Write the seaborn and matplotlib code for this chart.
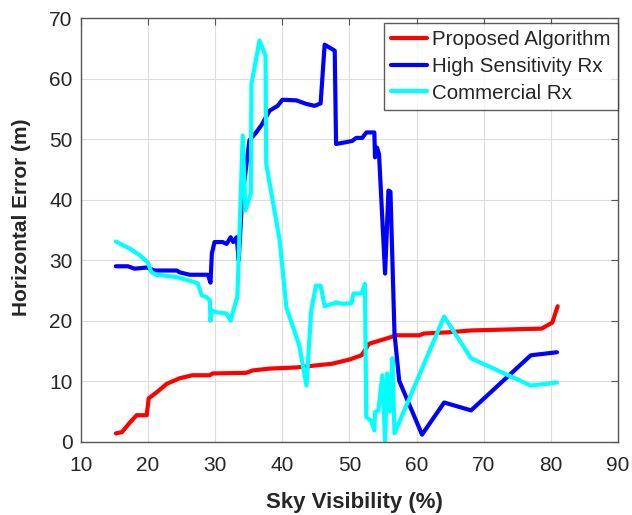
import numpy as np
import pandas as pd
import matplotlib.pyplot as plt
import seaborn as sns

# data
prop_x = [15.2, 16.1, 17.3, 18.3, 19.8, 20.1, 21.3, 22.8, 24.7, 26.6, 29.2, 29.6, 34.6, 35.6,
          38.1, 42.2, 47.4, 50.0, 51.8, 52.9, 55.9, 56.9, 60.4, 61.1, 64.8, 68.1, 74.8, 78.6, 80.2, 81.0]
prop_y = [1.4, 1.6, 3.2, 4.4, 4.4, 7.2, 8.2, 9.6, 10.5, 11.0, 11.0, 11.3, 11.4, 11.8,
          12.1, 12.3, 12.9, 13.6, 14.3, 16.2, 17.2, 17.6, 17.6, 17.9, 18.1, 18.4, 18.6, 18.7, 19.7, 22.4]

high_x = [15.2, 17.0, 18.0, 19.8, 21.0, 24.3, 24.7, 26.2, 28.9, 29.3, 29.5, 29.9, 31.1, 31.7,
          32.3, 32.7, 33.2, 33.5, 34.0, 35.1, 36.1, 37.0, 38.1, 39.3, 40.0, 42.1, 43.6, 44.8,
          45.7, 46.3, 47.8, 48.0, 49.5, 50.4, 51.0, 51.9, 52.5, 53.7, 53.8, 54.1, 54.4, 55.3,
          55.8, 56.1, 56.7, 57.4, 60.8, 64.1, 68.1, 77.0, 80.9]
high_y = [29.0, 29.0, 28.6, 28.8, 28.3, 28.3, 28.0, 27.6, 27.6, 26.3, 31.1, 33.0, 33.0, 32.7,
          33.8, 33.0, 33.8, 30.0, 40.0, 49.8, 51.1, 52.5, 54.7, 55.5, 56.5, 56.4, 55.8, 55.5,
          55.9, 65.6, 64.6, 49.2, 49.5, 49.7, 50.2, 50.2, 51.1, 51.1, 47.0, 48.6, 47.5, 27.8,
          41.5, 41.3, 17.9, 10.1, 1.2, 6.5, 5.2, 14.3, 14.8]

comm_x = [15.2, 17.3, 18.8, 20.0, 20.5, 21.3, 24.3, 26.2, 27.4, 28.0, 28.7, 29.2, 29.3, 29.5,
          30.2, 31.7, 32.3, 32.7, 33.3, 34.1, 34.5, 35.3, 35.4, 36.6, 37.5, 37.6, 39.6, 40.6,
          42.5, 43.6, 44.3, 45.0, 45.7, 46.3, 48.0, 48.9, 50.3, 50.6, 51.8, 52.3, 52.5, 53.2,
          53.7, 53.8, 54.3, 54.9, 55.3, 55.6, 56.0, 56.4, 56.7, 64.1, 68.1, 77.0, 80.9]
comm_y = [33.1, 31.9, 30.8, 29.6, 28.0, 27.6, 27.2, 26.6, 26.2, 24.2, 23.9, 23.4, 20.0, 21.7,
          21.4, 21.2, 20.0, 21.7, 23.9, 50.6, 38.2, 41.0, 59.1, 66.3, 63.8, 45.9, 33.3, 22.2,
          16.0, 9.3, 21.7, 25.8, 25.8, 22.4, 23.0, 22.8, 22.9, 24.5, 24.5, 26.1, 4.1, 3.5,
          1.9, 4.9, 5.2, 11.0, 0.2, 11.3, 5.0, 13.8, 1.4, 20.7, 13.8, 9.3, 9.8]

labels = ["Proposed Algorithm", "High Sensitivity Rx", "Commercial Rx"]
colors = ["#ff0000", "#0000ff", "#00ffff"]

sns.set_style("white")
plt.rcParams['font.family'] = ['Liberation Sans', 'DejaVu Sans']

fig = plt.figure(figsize=(6.32, 5.15), dpi=100)
ax = fig.add_axes([0.128, 0.142, 0.85, 0.823])

for xs, ys, lab, c in zip([prop_x, high_x, comm_x], [prop_y, high_y, comm_y], labels, colors):
    df = pd.DataFrame({"x": xs, "y": ys})
    sns.lineplot(data=df, x="x", y="y", sort=False, estimator=None, color=c,
                 linewidth=3, label=lab, ax=ax)

ax.set_xlim(10, 90)
ax.set_ylim(0, 70)
ax.set_xticks(np.arange(10, 91, 10))
ax.set_yticks(np.arange(0, 71, 10))
ax.grid(True, color="#dddddd", linewidth=0.8)
ax.tick_params(direction="in", top=True, right=True, length=5, labelsize=15,
               color="#555555")
ax.tick_params(axis="x", pad=10)
ax.tick_params(axis="y", pad=6)
for s in ax.spines.values():
    s.set_color("#555555")
    s.set_linewidth(1)
ax.set_xlabel("Sky Visibility (%)", fontsize=16, fontweight="bold")
ax.set_ylabel("Horizontal Error (m)", fontsize=15, fontweight="bold")
ax.xaxis.set_label_coords(0.51, -0.118)
ax.yaxis.set_label_coords(-0.092, 0.53)

leg = ax.legend(loc="upper right", bbox_to_anchor=(1.0, 0.988), fontsize=14.8, frameon=True,
                fancybox=False, handlelength=1.75, borderpad=0.35, labelspacing=0.37,
                handletextpad=0.25, borderaxespad=0)
leg.get_frame().set_edgecolor("#333333")
leg.get_frame().set_linewidth(1)

fig.savefig("out.png", dpi=100)
